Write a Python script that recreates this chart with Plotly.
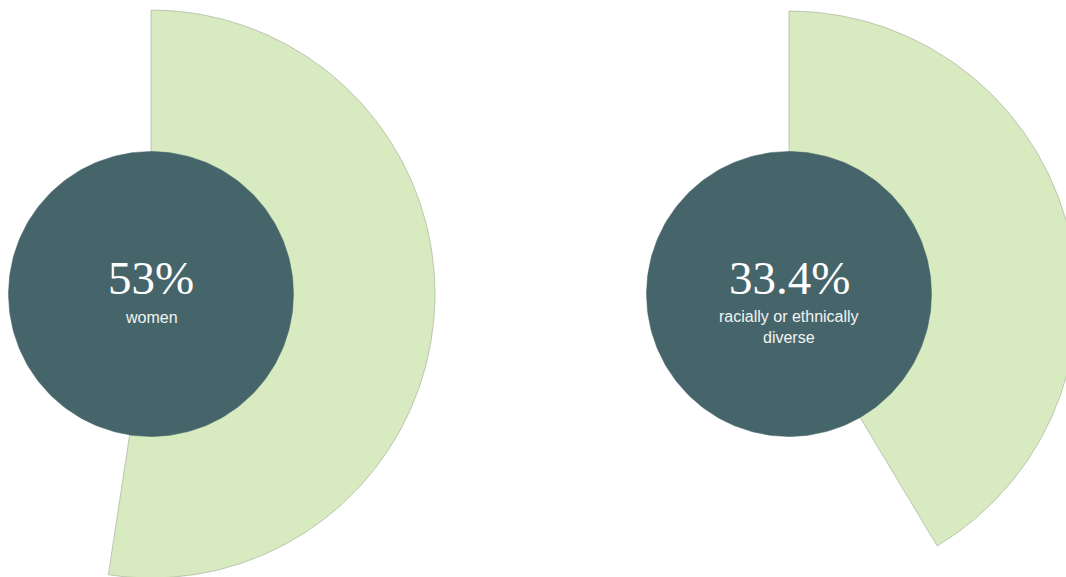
import numpy as np
import plotly.graph_objects as go

# values shown in the centre of each badge
labels_pct = ["53%", "33.4%"]
captions = ["women", "racially or ethnically<br>diverse"]
# angular extent of each light-green wedge as drawn (percent of a full turn)
wedge_pct = [52.4, 41.4]

# layout geometry (pixel units on a 1066 x 577 page)
W, H = 1066, 577
CX = [151, 789]
CY = [294, 294]
WEDGE_CY = [294, 299]
R_OUT = [284, 288]
R_IN = 142.5
CAP_DY = [23, 33]

WEDGE = "#d8eac0"
DISC = "#46656b"

fig = go.Figure()

for i in range(2):
    th = np.linspace(0, np.radians(wedge_pct[i] * 3.6), 240)
    xs = np.concatenate([[CX[i]], CX[i] + R_OUT[i] * np.sin(th), [CX[i]]])
    ys = np.concatenate([[WEDGE_CY[i]], WEDGE_CY[i] - R_OUT[i] * np.cos(th), [WEDGE_CY[i]]])
    fig.add_trace(go.Scatter(x=xs, y=ys, mode="lines", fill="toself", fillcolor=WEDGE,
                             line=dict(color="rgba(130,140,120,0.55)", width=0.8),
                             hoverinfo="skip", showlegend=False))

for i in range(2):
    t = np.linspace(0, 2 * np.pi, 240)
    fig.add_trace(go.Scatter(x=CX[i] + R_IN * np.cos(t), y=CY[i] + R_IN * np.sin(t),
                             mode="lines", fill="toself", fillcolor=DISC,
                             line=dict(color=DISC, width=0.5),
                             hoverinfo="skip", showlegend=False))
    fig.add_annotation(x=CX[i], y=CY[i] - 16, text=labels_pct[i], showarrow=False,
                       xanchor="center", yanchor="middle",
                       font=dict(family="Liberation Serif", size=47, color="white"))
    fig.add_annotation(x=CX[i], y=CY[i] + CAP_DY[i], text=captions[i], showarrow=False,
                       xanchor="center", yanchor="middle",
                       font=dict(family="Liberation Sans", size=16, color="#f2f4f2"))

fig.update_xaxes(range=[0, W], visible=False, fixedrange=True)
fig.update_yaxes(range=[H, 0], visible=False, fixedrange=True)
fig.update_layout(width=W, height=H, margin=dict(l=0, r=0, t=0, b=0),
                  paper_bgcolor="white", plot_bgcolor="white", showlegend=False)

# drop the default page margin so the figure sits flush in the window
fig.write_html("out.html", config={"displayModeBar": False},
               post_script="document.body.style.margin='0';document.body.style.overflow='hidden';")
